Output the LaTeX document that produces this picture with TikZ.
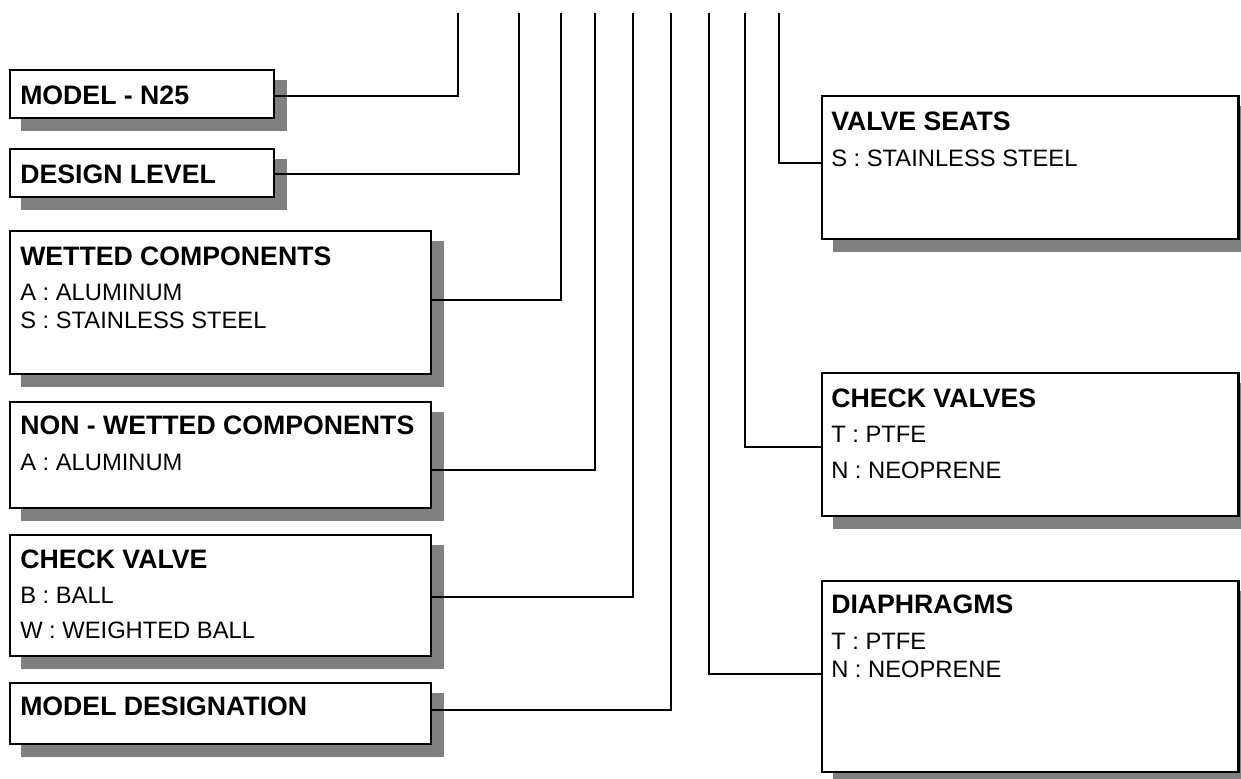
\documentclass[tikz,border=0pt]{standalone}
\usepackage{fontspec}
\setmainfont{Liberation Sans}
\usetikzlibrary{fit,backgrounds,calc}
\definecolor{shadowgray}{HTML}{808080}
\tikzset{
  box/.style={draw=black, fill=white, line width=2.2pt, inner sep=0pt, outer sep=0pt},
  wire/.style={draw=black, line width=2.1pt},
  ttl/.style={anchor=base west, inner sep=0pt, font=\fontsize{20pt}{22pt}\selectfont\bfseries},
  itm/.style={anchor=base west, inner sep=0pt, font=\fontsize{17.8pt}{20pt}\selectfont},
}
\newcommand{\mkbox}[3]{%
  \path (#2) coordinate (#1-a) (#3) coordinate (#1-b);
  \node[box, fit=(#1-a)(#1-b)] (#1) {};
  \begin{scope}[on background layer]
    \fill[shadowgray] ($(#1.north west)+(11,10)$) rectangle ($(#1.south east)+(13,13)$);
  \end{scope}}
\begin{document}
\begin{tikzpicture}[x=0.75pt, y=-0.75pt]
\useasboundingbox (0,0) rectangle (1241,778);
\begin{scope}
\clip (0,0) rectangle (1241,778);
% left boxes
\mkbox{mn}{10,70}{274,118}
\mkbox{dl}{10,149}{274,197}
\mkbox{wc}{10,231}{431,374}
\mkbox{nw}{10,402}{431,508}
\mkbox{cv}{10,535}{431,656}
\mkbox{md}{10,683}{431,744}
% right boxes
\mkbox{vs}{822,96}{1238.5,239}
\mkbox{cvs}{822,373}{1238.5,516}
\mkbox{dia}{822,581}{1238.5,772}

% texts
\node[ttl] (mn-t) at (20,104) {MODEL - N25};
\node[ttl] (dl-t) at (20,183) {DESIGN LEVEL};
\node[ttl] (wc-t) at (20,265) {WETTED COMPONENTS};
\node[itm] (wc-1) at (20,300) {A : ALUMINUM};
\node[itm] (wc-2) at (20,328) {S : STAINLESS STEEL};
\node[ttl] (nw-t) at (20,434) {NON - WETTED COMPONENTS};
\node[itm] (nw-1) at (20,470) {A : ALUMINUM};
\node[ttl] (cv-t) at (20,568) {CHECK VALVE};
\node[itm] (cv-1) at (20,603) {B : BALL};
\node[itm] (cv-2) at (20,638) {W : WEIGHTED BALL};
\node[ttl] (md-t) at (20,715) {MODEL DESIGNATION};
\node[ttl] (vs-t) at (831,130) {VALVE SEATS};
\node[itm] (vs-1) at (831,166) {S : STAINLESS STEEL};
\node[ttl] (cvs-t) at (831,407) {CHECK VALVES};
\node[itm] (cvs-1) at (831,442) {T : PTFE};
\node[itm] (cvs-2) at (831,478) {N : NEOPRENE};
\node[ttl] (dia-t) at (831,613) {DIAPHRAGMS};
\node[itm] (dia-1) at (831,649) {T : PTFE};
\node[itm] (dia-2) at (831,677) {N : NEOPRENE};

% connector coordinates
\coordinate (t1) at (458,13);  \coordinate (k1) at (458,96);
\coordinate (t2) at (519,13);  \coordinate (k2) at (519,174);
\coordinate (t3) at (561,13);  \coordinate (k3) at (561,300);
\coordinate (t4) at (595,13);  \coordinate (k4) at (595,470);
\coordinate (t5) at (633,13);  \coordinate (k5) at (633,597);
\coordinate (t6) at (671,13);  \coordinate (k6) at (671,710);
\coordinate (t7) at (709,13);  \coordinate (k7) at (709,674);
\coordinate (t8) at (745,13);  \coordinate (k8) at (745,447);
\coordinate (t9) at (779,13);  \coordinate (k9) at (779,163);

\draw[wire] (t1) -- (k1) -- (k1 -| mn.east);
\draw[wire] (t2) -- (k2) -- (k2 -| dl.east);
\draw[wire] (t3) -- (k3) -- (k3 -| wc.east);
\draw[wire] (t4) -- (k4) -- (k4 -| nw.east);
\draw[wire] (t5) -- (k5) -- (k5 -| cv.east);
\draw[wire] (t6) -- (k6) -- (k6 -| md.east);
\draw[wire] (t7) -- (k7) -- (k7 -| dia.west);
\draw[wire] (t8) -- (k8) -- (k8 -| cvs.west);
\draw[wire] (t9) -- (k9) -- (k9 -| vs.west);
\end{scope}
\end{tikzpicture}
\end{document}
